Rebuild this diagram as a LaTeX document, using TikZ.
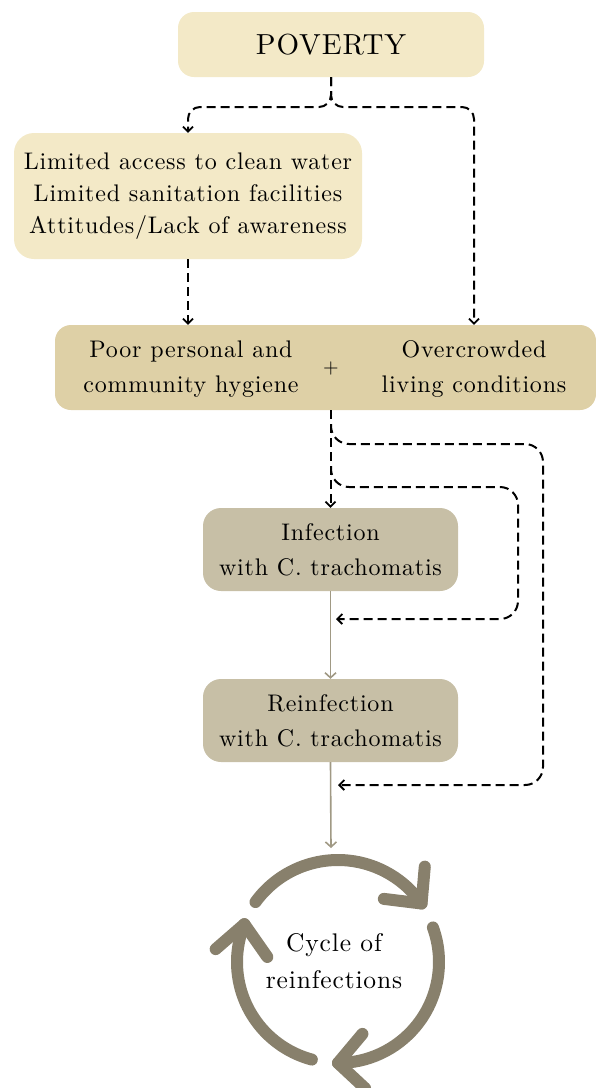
\documentclass[tikz,border=0pt]{standalone}
\usepackage{fontspec}
\setmainfont{lmroman10-regular.otf}[LetterSpace=3.3]
\usetikzlibrary{arrows.meta}
\definecolor{cream}{RGB}{243,233,199}
\definecolor{sand}{RGB}{222,208,166}
\definecolor{khaki}{RGB}{199,191,166}
\definecolor{olive}{RGB}{136,128,108}
\definecolor{graylink}{RGB}{160,153,132}
\newcommand{\boxfont}[2]{\fontsize{#1}{#2}\selectfont}
\begin{document}
\begin{tikzpicture}[x=1pt,y=-1pt,
  box/.style={rectangle, rounded corners=16pt, inner sep=0pt, align=center, font=\boxfont{24}{35}},
  dlink/.style={draw=black, line width=2pt, dash pattern=on 9pt off 5pt, rounded corners=14pt},
  dtip/.style={-{Straight Barb[length=5pt,width=10pt,line width=1.8pt]}},
  glink/.style={draw=graylink, line width=1.6pt, -{Straight Barb[length=5pt,width=11pt]}},
  cyc/.style={draw=olive, line width=12pt, line cap=round, line join=round}
]
\useasboundingbox (0,0) rectangle (596,1088);

\node[box, fill=cream, minimum width=306pt, minimum height=65pt, font=\boxfont{29}{34}] (pov) at (331,44.5) {POVERTY};
\node[box, fill=cream, minimum width=348pt, minimum height=126pt, rounded corners=20pt, font=\boxfont{24}{32}] (lim) at (188,196) {Limited access to clean water\\Limited sanitation facilities\\Attitudes/Lack of awareness};
\node[box, fill=sand, minimum width=541pt, minimum height=85pt] (b3) at (325.5,367.5) {};
\node[box] (hyg) at (191,369) {Poor personal and\\community hygiene};
\node[box, font=\fontsize{20}{22}\selectfont] (plus) at (331,368) {+};
\node[box] (crowd) at (474,369) {Overcrowded\\living conditions};
\node[box, fill=khaki, minimum width=255pt, minimum height=83pt, rounded corners=18pt] (inf) at (330.5,549.5) {Infection\\with C. trachomatis};
\node[box, fill=khaki, minimum width=255pt, minimum height=83pt, rounded corners=18pt] (rei) at (330.5,720.5) {Reinfection\\with C. trachomatis};
\node[box, font=\boxfont{25.5}{37}] (cycle) at (334,961) {Cycle of\\reinfections};

\coordinate (lt) at (188,107);
\coordinate (rt) at (474,107);
\coordinate (s1) at (331,424);
\coordinate (s2) at (331,466);
\coordinate (r1) at (543,444);
\coordinate (r2) at (518,487);
\coordinate (e1) at (338,785);
\coordinate (e2) at (336,619);
\coordinate (ctop) at (331,848);

\draw[dlink, dtip, rounded corners=12pt] (pov.south) -- (pov.south |- lt) -- (lt) -- (lim.north);
\draw[dlink, dtip, rounded corners=12pt] (pov.south) -- (pov.south |- rt) -- (rt) -- (rt |- b3.north);
\draw[dlink, dtip] (lim.south) -- (lim.south |- b3.north);
\draw[dlink, dtip] (b3.south -| inf.north) -- (inf.north);
\draw[dlink, dtip, rounded corners=18pt] (s1) -- (s1 |- r1) -- (r1) -- (r1 |- e1) -- (e1);
\draw[dlink, dtip, rounded corners=18pt] (s2) -- (s2 |- r2) -- (r2) -- (r2 |- e2) -- (e2);

\draw[glink] (inf.south) -- (rei.north);
\draw[glink] (rei.south) -- (ctop);

\begin{scope}[shift={(338,962)}, yscale=-1]
  % top arc
  \draw[cyc] (144:102) arc[start angle=144, end angle=35, radius=102];
  \draw[cyc] (35:102) ++(85:37) -- (35:102) -- ++(173:38);
  % right arc
  \draw[cyc] (20:101) arc[start angle=20, end angle=-90, radius=101];
  \draw[cyc] (-90:101) ++(50:38) -- (-90:101) -- ++(-43:37);
  % left arc
  \draw[cyc] (-105:101) arc[start angle=-105, end angle=-202, radius=101];
  \draw[cyc] (158:101) ++(221:38) -- (158:101) -- ++(305:40);
\end{scope}
\end{tikzpicture}
\end{document}
